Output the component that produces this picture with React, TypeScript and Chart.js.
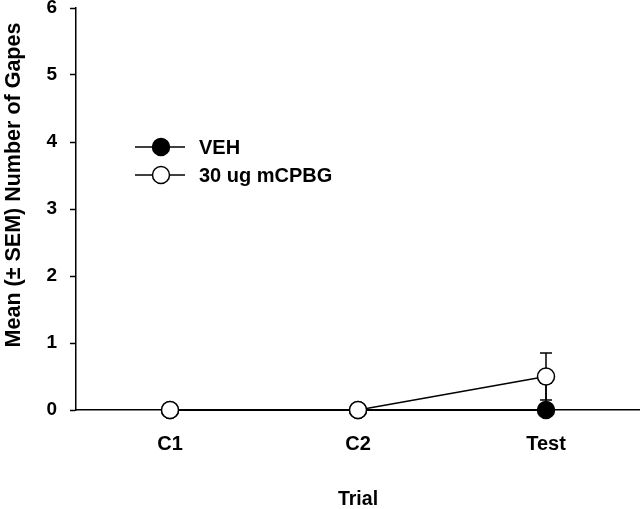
import React, { useEffect, useRef } from "react";
import { Chart, registerables } from "chart.js";

Chart.register(...registerables);

const categories = ["C1", "C2", "Test"];
const vehMeans = [0, 0, 0];
const vehSem = [0, 0, 0.4];
const cpbgMeans = [0, 0, 0.5];
const cpbgSem = [0, 0, 0.35];
const seriesLabels = ["VEH", "30 ug mCPBG"];
const yTitle = "Mean (\u00b1 SEM) Number of Gapes";
const xTitle = "Trial";

const FONT = "'Liberation Sans', Arial, Helvetica, sans-serif";
const semBySeries = [vehSem, cpbgSem];

const errorBarPlugin = {
  id: "errorBars",
  beforeDatasetsDraw(chart: any) {
    const ctx = chart.ctx;
    const yScale = chart.scales.y;
    const area = chart.chartArea;
    ctx.save();
    ctx.beginPath();
    ctx.rect(area.left, area.top, area.right - area.left, area.bottom - area.top);
    ctx.clip();
    ctx.strokeStyle = "#000";
    ctx.lineWidth = 1.5;
    chart.data.datasets.forEach((ds: any, di: number) => {
      const meta = chart.getDatasetMeta(di);
      const sems = semBySeries[di];
      meta.data.forEach((pt: any, i: number) => {
        const s = sems[i];
        if (!s) return;
        const v = ds.data[i];
        const x = pt.x;
        const yHi = yScale.getPixelForValue(v + s);
        const yLo = yScale.getPixelForValue(v - s);
        ctx.beginPath();
        ctx.moveTo(x, yLo);
        ctx.lineTo(x, yHi);
        ctx.moveTo(x - 6, yHi);
        ctx.lineTo(x + 6, yHi);
        ctx.moveTo(x - 6, yLo);
        ctx.lineTo(x + 6, yLo);
        ctx.stroke();
      });
    });
    ctx.restore();
  },
};

const extrasPlugin = {
  id: "extras",
  afterDraw(chart: any) {
    const ctx = chart.ctx;
    const area = chart.chartArea;
    ctx.save();
    ctx.fillStyle = "#000";
    ctx.font = `bold 21.5px ${FONT}`;
    ctx.textAlign = "center";
    ctx.textBaseline = "middle";
    ctx.translate(14, 185);
    ctx.rotate(-Math.PI / 2);
    ctx.fillText(yTitle, 0, 0);
    ctx.restore();

    ctx.save();
    const rows = [
      { y: 147, fill: "#000" },
      { y: 175, fill: "#fff" },
    ];
    const lx0 = area.left + 59;
    const lx1 = area.left + 109;
    const mx = area.left + 85;
    rows.forEach((r, i) => {
      ctx.strokeStyle = "#000";
      ctx.lineWidth = 1.5;
      ctx.beginPath();
      ctx.moveTo(lx0, r.y);
      ctx.lineTo(lx1, r.y);
      ctx.stroke();
      ctx.beginPath();
      ctx.arc(mx, r.y, 8.5, 0, Math.PI * 2);
      ctx.fillStyle = r.fill;
      ctx.fill();
      ctx.stroke();
      ctx.fillStyle = "#000";
      ctx.font = `bold 20px ${FONT}`;
      ctx.textAlign = "left";
      ctx.textBaseline = "middle";
      ctx.fillText(chart.data.datasets[i].label, area.left + 123, r.y + 1);
    });
    ctx.restore();
  },
};

export default function App() {
  const canvasRef = useRef<HTMLCanvasElement | null>(null);

  useEffect(() => {
    document.body.style.margin = "0";
    const canvas = canvasRef.current;
    if (!canvas) return;
    const chart = new Chart(canvas, {
      type: "line",
      data: {
        labels: categories,
        datasets: [
          {
            label: seriesLabels[0],
            data: vehMeans,
            borderColor: "#000",
            borderWidth: 2,
            backgroundColor: "#000",
            pointBackgroundColor: "#000",
            pointBorderColor: "#000",
            pointBorderWidth: 1.5,
            pointRadius: 8.5,
            pointHoverRadius: 8.5,
            tension: 0,
            order: 1,
            clip: false as any,
          },
          {
            label: seriesLabels[1],
            data: cpbgMeans,
            borderColor: "#000",
            borderWidth: 1.5,
            backgroundColor: "#fff",
            pointBackgroundColor: "#fff",
            pointBorderColor: "#000",
            pointBorderWidth: 1.5,
            pointRadius: 8.5,
            pointHoverRadius: 8.5,
            tension: 0,
            order: 0,
            clip: false as any,
          },
        ],
      },
      options: {
        animation: false,
        responsive: false,
        maintainAspectRatio: false,
        layout: { autoPadding: false, padding: { top: 8, right: 0, left: 0, bottom: 0 } },
        plugins: {
          legend: { display: false },
          tooltip: { enabled: false },
        },
        scales: {
          x: {
            type: "category",
            offset: true,
            grid: { display: false },
            border: { display: true, color: "#000", width: 1.5 },
            ticks: {
              color: "#000",
              padding: 14,
              font: { family: FONT, size: 20, weight: "bold" },
            },
            title: {
              display: true,
              text: xTitle,
              color: "#000",
              padding: { top: 0, bottom: 0 },
              font: { family: FONT, size: 19.5, weight: "bold", lineHeight: 1 },
            },
            afterFit(scale: any) {
              scale.height = 99;
              scale.paddingLeft = 0;
              scale.paddingRight = 0;
            },
          },
          y: {
            min: 0,
            max: 6,
            ticks: {
              stepSize: 1,
              color: "#000",
              padding: 13,
              font: { family: FONT, size: 19, weight: "bold" },
            },
            grid: {
              display: true,
              drawOnChartArea: false,
              drawTicks: true,
              tickLength: 6,
              tickWidth: 1.5,
              tickColor: "#000",
              color: "#000",
            },
            border: { display: true, color: "#000", width: 1.5 },
            afterFit(scale: any) {
              scale.width = 76;
              scale.paddingTop = 0;
              scale.paddingBottom = 0;
            },
          },
        },
      },
      plugins: [errorBarPlugin, extrasPlugin],
    });
    return () => chart.destroy();
  }, []);

  return (
    <div style={{ position: "fixed", left: 0, top: 0, width: 640, height: 509, background: "#fff" }}>
      <canvas ref={canvasRef} width={640} height={509} style={{ width: 640, height: 509, display: "block" }} />
    </div>
  );
}
